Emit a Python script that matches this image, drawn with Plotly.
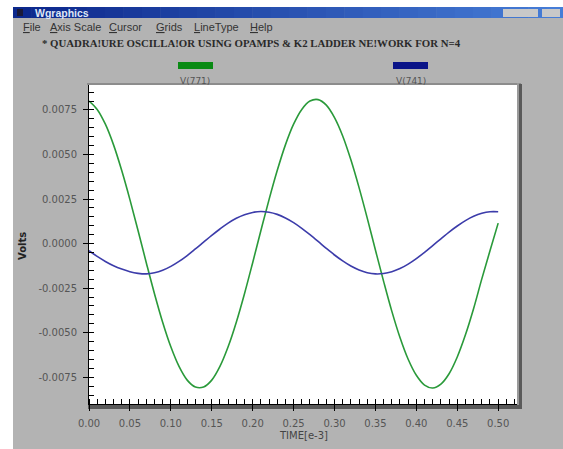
import plotly.graph_objects as go

# ---- data ----
time_ms = [0.00, 0.01, 0.02, 0.03, 0.04, 0.05, 0.06, 0.07, 0.08, 0.09,
           0.10, 0.11, 0.12, 0.13, 0.14, 0.15, 0.16, 0.17, 0.18, 0.19,
           0.20, 0.21, 0.22, 0.23, 0.24, 0.25, 0.26, 0.27, 0.28, 0.29,
           0.30, 0.31, 0.32, 0.33, 0.34, 0.35, 0.36, 0.37, 0.38, 0.39,
           0.40, 0.41, 0.42, 0.43, 0.44, 0.45, 0.46, 0.47, 0.48, 0.49, 0.50]
v771 = [0.00800, 0.00753, 0.00670, 0.00554, 0.00410, 0.00247, 0.00072, -0.00107, -0.00281, -0.00441,
        -0.00579, -0.00689, -0.00766, -0.00805, -0.00805, -0.00766, -0.00689, -0.00579, -0.00441, -0.00281,
        -0.00107, 0.00072, 0.00247, 0.00410, 0.00554, 0.00670, 0.00753, 0.00800, 0.00808, 0.00777,
        0.00707, 0.00604, 0.00470, 0.00314, 0.00143, -0.00036, -0.00212, -0.00379, -0.00527, -0.00649,
        -0.00739, -0.00794, -0.00810, -0.00788, -0.00730, -0.00636, -0.00512, -0.00364, -0.00198, -0.00040, 0.00115]
v741 = [-0.00040, -0.00072, -0.00100, -0.00124, -0.00143, -0.00158, -0.00167, -0.00170, -0.00164, -0.00150,
        -0.00128, -0.00100, -0.00067, -0.00030, 0.00008, 0.00046, 0.00082, 0.00115, 0.00142, 0.00162,
        0.00175, 0.00180, 0.00176, 0.00164, 0.00144, 0.00118, 0.00086, 0.00050, 0.00012, -0.00027,
        -0.00064, -0.00097, -0.00126, -0.00148, -0.00163, -0.00170, -0.00168, -0.00158, -0.00140, -0.00115,
        -0.00084, -0.00049, -0.00011, 0.00027, 0.00065, 0.00099, 0.00129, 0.00153, 0.00170, 0.00179, 0.00179]
series_names = ["V(771)", "V(741)"]
x_tickvals = [0.00, 0.05, 0.10, 0.15, 0.20, 0.25, 0.30, 0.35, 0.40, 0.45, 0.50]
x_ticktext = ["0.00", "0.05", "0.10", "0.15", "0.20", "0.25", "0.30", "0.35", "0.40", "0.45", "0.50"]
y_tickvals = [0.0075, 0.0050, 0.0025, 0.0, -0.0025, -0.0050, -0.0075]
y_ticktext = ["0.0075", "0.0050", "0.0025", "0.0000", "-0.0025", "-0.0050", "-0.0075"]
menu_items = ["<u>F</u>ile", "<u>A</u>xis Scale", "<u>C</u>ursor", "<u>G</u>rids", "<u>L</u>ineType", "<u>H</u>elp"]
subtitle = "* QUADRA!URE OSCILLA!OR USING OPAMPS &amp; K2 LADDER NE!WORK FOR N=4"

# ---- layout geometry (page pixels, page margin removed by post_script) ----
W, H = 563, 449
L, R, T, B = 89, 517, 85, 404

def px(x):
    return (x - L) / (R - L)

def py(y):
    return (B - y) / (B - T)

def rect(x0, y0, x1, y1, color):
    return dict(type="rect", xref="paper", yref="paper", x0=px(x0), x1=px(x1),
                y0=py(y1), y1=py(y0), fillcolor=color, line=dict(width=0), layer="below")

GRAY = "#b3b3b3"
shapes = []
shapes.append(rect(-2, -2, 13, H + 2, "white"))
shapes.append(rect(-2, -2, W + 2, 7, "white"))
# title bar gradient
n = 30
c0 = (12, 40, 140)
c1 = (70, 125, 215)
for i in range(n):
    f = i / (n - 1)
    c = tuple(int(c0[k] + (c1[k] - c0[k]) * f) for k in range(3))
    x0 = 13 + (W + 2 - 13) * i / n
    x1 = 13 + (W + 2 - 13) * (i + 1) / n + 0.5
    shapes.append(rect(x0, 7, x1, 18, "rgb(%d,%d,%d)" % c))
shapes.append(rect(17, 9, 23, 16, "#1a1a3a"))
shapes.append(rect(503, 9, 538, 17, "#c8c8c8"))
shapes.append(rect(542, 9, 560, 17, "#c8c8c8"))
# plot 3D frame
shapes.append(rect(87, 83, 521, 85, "#8c8c8c"))
shapes.append(rect(517, 83, 519, 408, "#9a9a9a"))
shapes.append(rect(519, 84, 522, 409, "#5a5a5a"))
shapes.append(rect(88, 405, 522, 409, "#5a5a5a"))
# legend bars
shapes.append(rect(178, 62, 213, 69, "#0a8a14"))
shapes.append(rect(393, 62, 428, 69, "#0a1488"))

annotations = []
menu_x = [21, 48, 107, 154, 192, 248]
for x, t in zip(menu_x, menu_items):
    annotations.append(dict(x=px(x), y=py(27), xref="paper", yref="paper", text=t,
                            showarrow=False, xanchor="left", yanchor="middle",
                            font=dict(family="Liberation Sans", size=11, color="#333333")))
annotations.append(dict(x=px(40), y=py(43), xref="paper", yref="paper", text="<b>" + subtitle + "</b>",
                        showarrow=False, xanchor="left", yanchor="middle",
                        font=dict(family="Liberation Serif", size=10.8, color="#2a2a2a")))
annotations.append(dict(x=px(33), y=py(12.5), xref="paper", yref="paper", text="<b>Wgraphics</b>",
                        showarrow=False, xanchor="left", yanchor="middle",
                        font=dict(family="Liberation Sans", size=10.5, color="#dfe6f5")))
for xc, name in zip([195, 411], series_names):
    annotations.append(dict(x=px(xc), y=py(81), xref="paper", yref="paper", text=name,
                            showarrow=False, xanchor="center", yanchor="middle",
                            font=dict(family="DejaVu Sans", size=9, color="#555555")))
annotations.append(dict(x=px(303), y=py(435), xref="paper", yref="paper", text="TIME[e-3]",
                        showarrow=False, xanchor="center", yanchor="middle",
                        font=dict(family="DejaVu Sans", size=10, color="#444444")))
annotations.append(dict(x=px(22), y=py(246), xref="paper", yref="paper", text="<b>Volts</b>",
                        showarrow=False, xanchor="center", yanchor="middle", textangle=-90,
                        font=dict(family="DejaVu Sans", size=10, color="#222222")))

fig = go.Figure()
fig.add_trace(go.Scatter(x=time_ms, y=v771, mode="lines", name=series_names[0],
                         line=dict(color="#2a9a3a", width=1.6, shape="spline", smoothing=1)))
fig.add_trace(go.Scatter(x=time_ms, y=v741, mode="lines", name=series_names[1],
                         line=dict(color="#3c3caa", width=1.6, shape="spline", smoothing=1)))

fig.update_layout(
    width=W, height=H,
    margin=dict(l=L, r=W - R, t=T, b=H - B, pad=0),
    paper_bgcolor=GRAY, plot_bgcolor="white",
    showlegend=False,
    shapes=shapes, annotations=annotations,
    xaxis=dict(range=[0, 0.523], tickmode="array", tickvals=x_tickvals, ticktext=x_ticktext,
               showgrid=False, zeroline=False, showline=True, linecolor="black", linewidth=1,
               ticks="outside", ticklen=6, tickcolor="black", ticklabelstandoff=4,
               tickfont=dict(family="DejaVu Sans", size=10, color="#555555"),
               minor=dict(tickmode="linear", tick0=0, dtick=0.01, ticks="inside", ticklen=5,
                          tickcolor="black", showgrid=False)),
    yaxis=dict(range=[-0.009, 0.0089], tickmode="array", tickvals=y_tickvals, ticktext=y_ticktext,
               showgrid=False, zeroline=False, showline=True, linecolor="black", linewidth=1,
               ticks="outside", ticklen=5, tickcolor="black", ticklabelstandoff=4,
               tickfont=dict(family="DejaVu Sans", size=10, color="#555555"),
               minor=dict(tickmode="linear", tick0=0, dtick=0.0005, ticks="inside", ticklen=5,
                          tickcolor="black", showgrid=False)),
)

fig.write_html("out.html", config={"displayModeBar": False},
               post_script="document.body.style.margin='0';document.body.style.overflow='hidden';")
